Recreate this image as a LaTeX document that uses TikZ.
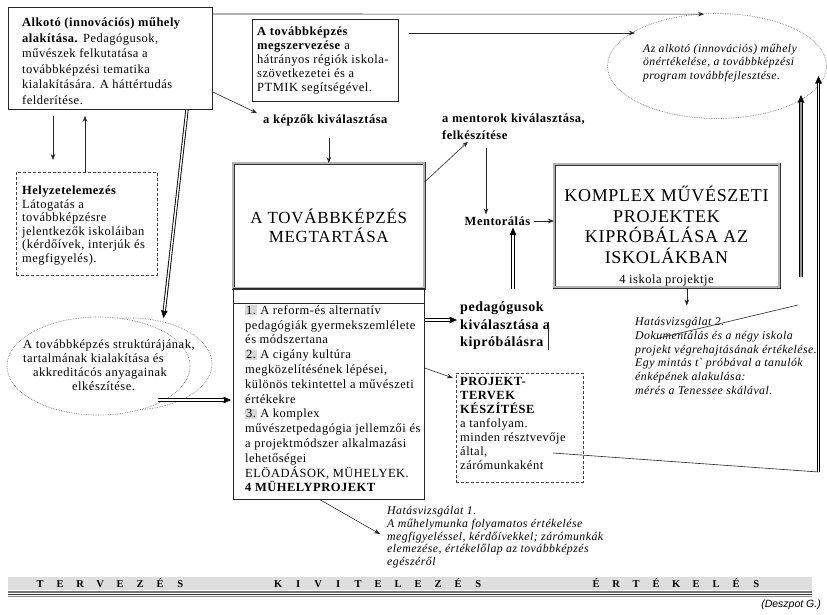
\documentclass[tikz,border=0pt]{standalone}
\usepackage{fontspec}
\setmainfont{Liberation Serif}[LetterSpace=4]
\setsansfont{Liberation Sans}
\usetikzlibrary{arrows.meta,shapes.geometric,calc}
\newcommand\hlnum[1]{{\setlength{\fboxsep}{0.8pt}\colorbox{black!15}{#1}}}
\newcommand\barword[1]{\barloop#1\relax}
\def\barloop#1{\ifx\relax#1\else\makebox[20pt]{#1}\expandafter\barloop\fi}
\newcommand\dblarrow[3][]{\draw[dbltip,#1] #2 -- #3; \draw[dblshaft,#1] #2 -- #3;}
\begin{document}
\begin{tikzpicture}[x=1pt,y=-1pt,
  txt/.style={inner sep=0pt, anchor=north west, align=left, font=\fontsize{12.5}{15}\selectfont},
  itxt/.style={inner sep=0pt, anchor=north west, align=left, font=\itshape\fontsize{11.7}{13.5}\selectfont},
  plainbox/.style={draw=black!85, line width=0.8pt, inner sep=0pt, anchor=north west},
  dashbox/.style={draw=black!75, line width=0.8pt, dash pattern=on 3pt off 2pt, inner sep=0pt, anchor=north west},
  dblbox/.style={draw=black!80, line width=0.6pt, double=black!30, double distance=1.8pt, inner sep=0pt, anchor=north west},
  dotell/.style={ellipse, draw=black!50, line width=0.7pt, densely dotted, inner sep=0pt},
  arr/.style={draw=black!85, line width=0.6pt, -{Stealth[length=6pt,width=4.5pt]}},
  dbltip/.style={draw=black, line width=0.6pt, -{Stealth[length=7.5pt,width=6.5pt,inset=0pt]}},
  dblshaft/.style={draw=black, line width=0.9pt, double=white, double distance=1.5pt, shorten >=7pt},
  heavy/.style={line width=0.9pt, double=black!40, double distance=1.9pt},
  thin/.style={draw=black!85, line width=0.6pt}]
\useasboundingbox (0,0) rectangle (827,614);
\fill[white] (0,0) rectangle (827,614);

% top-right ellipse
\node[dotell, minimum width=219pt, minimum height=105pt] (el1) at (717,66) {};
\node[itxt, anchor=center] (el1t) at (720,63) {Az alkotó (innovációs) műhely\\önértékelése, a továbbképzési\\program továbbfejlesztése.};

% top-left box
\node[plainbox, minimum width=204pt, minimum height=102pt] (tl) at (8,7) {};
\node[txt, font=\fontsize{12.5}{15.5}\selectfont] (tlt) at (22,17.5) {\textbf{Alkotó (innovációs) műhely}\\\textbf{alakítása.} Pedagógusok,\\művészek felkutatása a\\továbbképzési tematika\\kialakítására. A háttértudás\\felderítése.};

% top-middle box
\node[plainbox, minimum width=146pt, minimum height=82pt] (tm) at (252,19) {};
\node[txt, font=\fontsize{12.5}{14}\selectfont] (tmt) at (257,26.5) {\textbf{A továbbképzés}\\\textbf{megszervezése} a\\hátrányos régiók iskola-\\szövetkezetei és a\\PTMIK segítségével.};

% Helyzetelemzes
\node[dashbox, minimum width=141pt, minimum height=103pt] (hz) at (16,172) {};
\node[txt, font=\fontsize{12.5}{13.5}\selectfont] (hzt) at (22,186) {\textbf{Helyzetelemezés}\\Látogatás a\\továbbképzésre\\jelentkezők iskoláiban\\(kérdőívek, interjúk és\\megfigyelés).};

% left ellipses
\node[dotell, minimum width=164pt, minimum height=92pt, fill=white] (el2b) at (130,364) {};
\node[dotell, minimum width=183pt, minimum height=98pt, fill=white] (el2) at (98.5,366) {};
\node[txt, font=\fontsize{12.5}{14}\selectfont] (el2t) at (23,339.5) {A továbbképzés struktúrájának,\\tartalmának kialakítása és\\\hspace*{10pt}akkreditácós anyagainak\\\hspace*{49pt}elkészítése.};

% labels
\node[txt, font=\bfseries\fontsize{12.5}{15}\selectfont, anchor=west] (kepzok) at (263,120) {a képzők kiválasztása};
\node[txt, font=\bfseries\fontsize{12.5}{17}\selectfont] (ment) at (442,113.5) {a mentorok kiválasztása,\\felkészítése};
\node[inner sep=0pt, font=\bfseries\fontsize{12.5}{14}\selectfont] (mentoralas) at (497.5,221) {Mentorálás};

% big box
\node[dblbox, minimum width=191pt, minimum height=125pt] (big) at (233,163) {};
\node[inner sep=0pt, align=center, font=\fontsize{17}{19.5}\selectfont] (bigt) at (big.center) {A TOVÁBBKÉPZÉS\\MEGTARTÁSA};

% list box
\node[plainbox, line width=0.7pt, minimum width=191pt, minimum height=211pt] (list) at (233,288) {};
\draw[thin] ($(list.north west)+(0,15)$) -- ($(list.north east)+(0,15)$);
\node[txt, font=\fontsize{12.5}{14.8}\selectfont] (listt) at (245,305) {\hlnum{1.}\ A reform-és alternatív\\pedagógiák gyermekszemlélete\\és módszertana\\\hlnum{2.}\ A cigány kultúra\\megközelítésének lépései,\\különös tekintettel a művészeti\\értékekre\\\hlnum{3.}\ A komplex\\művészetpedagógia jellemzői és\\a projektmódszer alkalmazási\\lehetőségei\\ELÖADÁSOK, MÜHELYEK.\\\textbf{4 MÜHELYPROJEKT}};

% right box
\node[dblbox, minimum width=225pt, minimum height=123pt] (kompl) at (554,164) {};
\node[inner sep=0pt, align=center, anchor=north, font=\fontsize{18}{20.5}\selectfont] (komplt) at (666.5,186) {KOMPLEX MŰVÉSZETI\\PROJEKTEK\\KIPRÓBÁLÁSA AZ\\ISKOLÁKBAN\\{\fontsize{12.5}{15}\selectfont 4 iskola projektje}};

% pedagogusok
\node[txt, font=\bfseries\fontsize{14}{17.5}\selectfont] (ped) at (460,302) {pedagógusok\\kiválasztása a\\kipróbálásra};

% projekt box
\node[dashbox, minimum width=127pt, minimum height=109pt] (proj) at (456,373) {};
\node[txt, font=\fontsize{12.5}{14}\selectfont] (projt) at (460,377) {\textbf{PROJEKT-}\\\textbf{TERVEK}\\\textbf{KÉSZÍTÉSE}\\a tanfolyam.\\minden résztvevője\\által,\\zárómunkaként};

% hatasvizsgalat texts
\node[itxt, font=\itshape\fontsize{11.8}{13.8}\selectfont] (hv2) at (635,317) {Hatásvizsgálat 2.\\Dokumentálás és a négy iskola\\projekt végrehajtásának értékelése.\\Egy mintás t\textasciigrave{} próbával a tanulók\\énképének alakulása:\\mérés a Tenessee skálával.};
\node[itxt, font=\itshape\fontsize{11.8}{12.8}\selectfont] (hv1) at (387,506) {Hatásvizsgálat 1.\\A műhelymunka folyamatos értékelése\\megfigyeléssel, kérdőívekkel; zárómunkák\\elemezése, értékelőlap az továbbképzés\\egészéről};

% free coordinates
\coordinate (tipA) at (801,95);
\coordinate (tipB) at (818.5,76);
\coordinate (v1) at (801,277);
\coordinate (corner) at (818.5,472);
\coordinate (hvend) at (798,305);
\coordinate (dstart) at (513,289);

% connectors
\draw[arr] ($(tl.north east)+(0,7)$) -- ($(el1.north)+(-13,1)$);
\draw[arr] ($(tm.north east)+(10,14)$) -- ($(el1.center)+(-82,-33)$);
\draw[arr] ($(tl.north east)+(0,85)$) -- ($(kepzok.north west)+(-6,-1)$);
\draw[arr] ($(kepzok.south -| big.north)+(0,12)$) -- (big.north);
\draw[arr] ($(big.north east)+(0,19)$) -- ($(ment.south west)+(26,2)$);
\draw[arr] ([xshift=-11.5pt]mentoralas.north |- ment.south) ++(0,8) -- ([xshift=-11.5pt,yshift=2pt]mentoralas.north);
\dblarrow{(dstart)}{([xshift=15.5pt,yshift=-2pt]mentoralas.south)}
\draw[arr] ([xshift=3pt]mentoralas.east) -- (kompl.west |- mentoralas.east);
\draw[arr] ([xshift=20pt]kompl.south) -- ++(0,18);
\draw[thin] ($(hv2.north west)+(20,22)$) -- (hvend);
\dblarrow[heavy]{(v1)}{(tipA)}
\draw[thin] ($(proj.north west)+(97,80)$) -- (corner);
\dblarrow{(corner)}{(tipB)}
\dblarrow{($(list.north east)+(0,32)$)}{($(ped.north west)+(-3,18)$)}
\draw[thin] ($(ped.north west)+(88,20)$) -- ++(0,28);
\draw[arr] ($(list.north east)+(0,80)$) -- ($(proj.north west)+(-3,5)$);
\dblarrow{($(el2.center)+(59,34)$)}{($(list.north west)+(-2,112)$)}
\draw[arr] ($(list.south west)+(87,0)$) -- ($(hv1.north west)+(-7,28)$);
\draw[arr] ($(tl.south west)+(45,6)$) -- ($(hz.north west)+(37,-12)$);
\draw[arr] ($(hz.north west)+(69,0)$) -- ($(tl.south west)+(77,6)$);
\dblarrow{($(tl.south west)+(179,0)$)}{($(el2.center)+(65,-48)$)}

% bottom bar
\fill[black!13] (8,577) rectangle (812,590);
\draw[black!55, line width=1.5pt] (8,592) -- (812,592);
\draw[black!80, line width=0.7pt] (8,594.5) -- (812,594.5);
\draw[black!45, line width=0.7pt] (8,596.5) -- (812,596.5);
\node[inner sep=0pt, anchor=west, font=\bfseries\fontsize{10.5}{12}\selectfont] (bw1) at (30,583.5) {\barword{TERVEZÉS}};
\node[inner sep=0pt, anchor=west, font=\bfseries\fontsize{10.5}{12}\selectfont] (bw2) at (268,583.5) {\barword{KIVITELEZÉS}};
\node[inner sep=0pt, anchor=west, font=\bfseries\fontsize{10.5}{12}\selectfont] (bw3) at (586,583.5) {\barword{ÉRTÉKELÉS}};
\node[inner sep=0pt, anchor=east, font=\sffamily\itshape\fontsize{10.5}{12}\selectfont] (desz) at (821,605) {(Deszpot G.)};
\end{tikzpicture}
\end{document}
